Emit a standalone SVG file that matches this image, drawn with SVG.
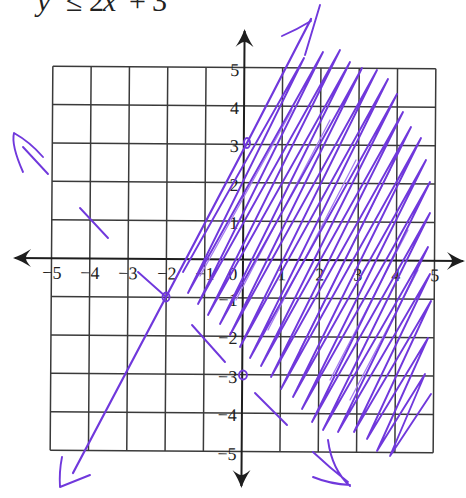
<svg xmlns="http://www.w3.org/2000/svg" width="466" height="498" viewBox="0 0 466 498">
<style>
.g{stroke:#3a3a3a;stroke-width:1.5;fill:none}
.ax{stroke:#1e1e1e;stroke-width:2;fill:none}
.lb{font-family:"Liberation Serif","Times New Roman",serif;font-size:18px;fill:#222}
.xl{text-anchor:middle}
.yl{text-anchor:end}
.p{stroke:#7038dc;stroke-width:1.9;fill:none;stroke-linecap:round;stroke-linejoin:round}
.pl{stroke:#a47cf0;stroke-width:1.3;fill:none;stroke-linecap:round;stroke-linejoin:round}
.pt{stroke:#7038dc;stroke-width:2.2;fill:none;stroke-linecap:round;stroke-linejoin:round}
.ttl{font-family:"Liberation Serif","Times New Roman",serif;font-size:30px;fill:#222}
</style>
<defs>
<path id="ah" d="M0 0 C-6 -2 -12 -5 -18 -9 C-14 -4 -13 -2 -13 0 C-13 2 -14 4 -18 9 C-12 5 -6 2 0 0 Z" fill="#1e1e1e"/>
</defs>
<rect width="466" height="498" fill="#fff"/>
<g id="title" class="ttl">
<text y="11"><tspan x="37" font-style="italic">y</tspan><tspan x="66">≤</tspan><tspan x="89">2</tspan><tspan x="103" font-style="italic">x</tspan><tspan x="129">+</tspan><tspan x="152">3</tspan></text>
</g>
<g id="plane" transform="rotate(0.4 243 259.5)">
<g id="grid" class="g">
<path d="M51.5 67.5V451.5M89.8 67.5V451.5M128.1 67.5V451.5M166.4 67.5V451.5M204.7 67.5V451.5M281.3 67.5V451.5M319.6 67.5V451.5M357.9 67.5V451.5M396.2 67.5V451.5M434.5 67.5V451.5"/>
<path d="M51.5 67.5H434.5M51.5 105.9H434.5M51.5 144.3H434.5M51.5 182.7H434.5M51.5 221.1H434.5M51.5 297.9H434.5M51.5 336.3H434.5M51.5 374.7H434.5M51.5 413.1H434.5M51.5 451.5H434.5"/>
</g>
<g id="axes">
<path class="ax" d="M15 259.5H463M243 31V486"/>
<use href="#ah" transform="translate(465 259.5)"/>
<use href="#ah" transform="translate(13 259.5) rotate(180)"/>
<use href="#ah" transform="translate(243 29) rotate(-90)"/>
<use href="#ah" transform="translate(243 488) rotate(90)"/>
</g>
<g id="xlabels" class="lb xl">
<text x="52" y="280">−5</text>
<text x="90" y="280">−4</text>
<text x="128" y="280">−3</text>
<text x="167" y="280">−2</text>
<text x="205" y="280">−1</text>
<text x="233" y="280">0</text>
<text x="282" y="280">1</text>
<text x="320" y="280">2</text>
<text x="358" y="280">3</text>
<text x="396" y="280">4</text>
<text x="435" y="280">5</text>
</g>
<g id="ylabels" class="lb yl">
<text x="238" y="76">5</text>
<text x="238" y="114">4</text>
<text x="238" y="152">3</text>
<text x="238" y="191">2</text>
<text x="238" y="229">1</text>
<text x="238" y="306">−1</text>
<text x="238" y="344">−2</text>
<text x="238" y="383">−3</text>
<text x="238" y="421">−4</text>
<text x="238" y="460">−5</text>
</g>
</g>
<g id="shading">
<path class="pl" d="M200 276 L292 110 M236 300 L330 120 M268 330 L356 160 M300 350 L390 170 M330 380 L408 230 M350 400 L418 270"/>
<path class="p" d="M183 272 L304 58 L188 293 L323 52 L198 304 L340 50 L208 315 L350 62 L220 324 L362 68 L230 335 L377 70 L240 347 L388 79 L250 358 L397 94 L261 366 L403 112 L271 377 L411 127 L281 389 L421 138 L293 397 L426 160 L302 409 L430 182 L312 422 L430 213 L323 430 L428 247 L338 432 L430 274 L354 432 L431 301 L367 439 L428 338 L377 451 L425 374 L390 456 L431 394"/>
</g>
<g id="boundary">
<path class="pt" d="M73 473 L166 297 L247 143 L311 19"/>
<path class="p" d="M62 457 Q59 472 60 487 Q75 481 90 475"/>
<path class="p" d="M282 36 Q298 29 311 21 M320 5 L305 55"/>
</g>
<g id="points">
<ellipse class="p" cx="166" cy="297" rx="3.5" ry="4.5"/>
<ellipse class="p" cx="247" cy="143" rx="3" ry="5"/>
<ellipse class="p" cx="243" cy="375" rx="4" ry="4.5" stroke="#9a6ae8"/>
</g>
<g id="marks">
<path class="p" d="M80 208 L108 238"/>
<path class="p" d="M138 272 L165 296"/>
<path class="p" d="M192 325 L225 362"/>
<path class="p" d="M255 393 L287 425"/>
<path class="p" d="M23 172 Q11 145 14 133 Q30 142 43 157 M23 147 L48 174"/>
<path class="p" d="M328 440 Q332 470 350 486 M313 452 Q330 468 348 482 M313 477 Q330 484 350 485"/>
</g>
</svg>
